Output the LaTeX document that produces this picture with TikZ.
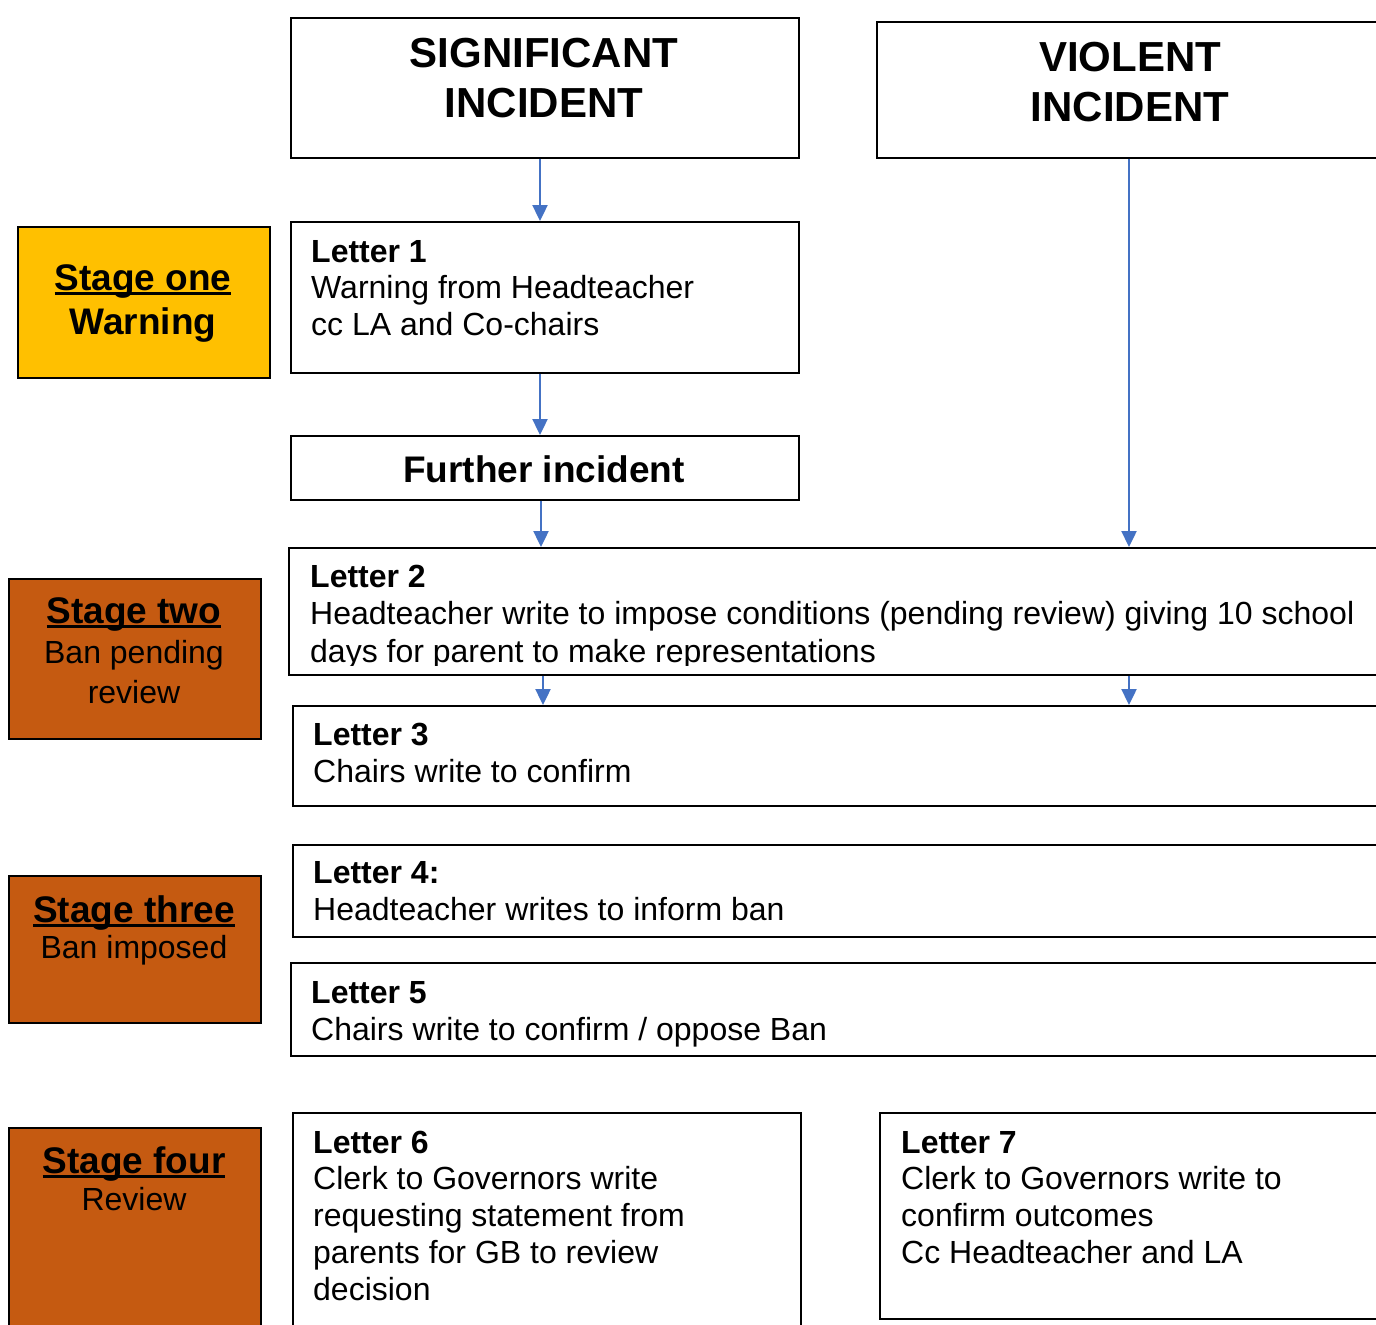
\documentclass[tikz,border=0pt]{standalone}
\usepackage{fontspec}
\setmainfont{Liberation Sans}
\usetikzlibrary{arrows.meta}
\definecolor{stgyel}{HTML}{FFC000}
\definecolor{stgbrn}{HTML}{C55A11}
\definecolor{arrblue}{HTML}{4472C4}
\newsavebox\myulbox
\newcommand\myul[1]{\leavevmode\sbox\myulbox{#1}\rlap{\rule[-5pt]{\wd\myulbox}{3pt}}\usebox\myulbox}
\begin{document}
\begin{tikzpicture}[x=1pt,y=-1pt,
  box/.style={draw=black, line width=1.6pt, inner sep=0pt, anchor=north west, rectangle},
  stagebox/.style={box, line width=1.8pt},
  txt/.style={anchor=base west, inner sep=0pt},
  ctxt/.style={anchor=base, inner sep=0pt},
  arr/.style={draw=arrblue, line width=2.4pt, -{Triangle[width=15pt,length=16pt]}}]
\clip (0,0) rectangle (1376,1325);
\fill[white] (0,0) rectangle (1376,1325);
% boxes
\node[box, minimum width=508pt, minimum height=140pt] (sig) at (290,17) {};
\node[box, minimum width=514pt, minimum height=136pt] (viol) at (876,21) {};
\node[stagebox, fill=stgyel, minimum width=252pt, minimum height=151pt] (s1) at (17,226) {};
\node[box, minimum width=508pt, minimum height=151pt] (l1) at (290,221) {};
\node[box, minimum width=508pt, minimum height=64pt] (fur) at (290,435) {};
\node[box, minimum width=1102pt, minimum height=127pt] (l2) at (288,547) {};
\node[box, minimum width=1098pt, minimum height=100pt] (l3) at (292,705) {};
\node[stagebox, fill=stgbrn, minimum width=252pt, minimum height=160pt] (s2) at (8,578) {};
\node[box, minimum width=1098pt, minimum height=92pt] (l4) at (292,844) {};
\node[box, minimum width=1100pt, minimum height=93pt] (l5) at (290,962) {};
\node[stagebox, fill=stgbrn, minimum width=252pt, minimum height=147pt] (s3) at (8,875) {};
\node[stagebox, fill=stgbrn, minimum width=252pt, minimum height=220pt] (s4) at (8,1127) {};
\node[box, minimum width=508pt, minimum height=230pt] (l6) at (292,1112) {};
\node[box, minimum width=511pt, minimum height=206pt] (l7) at (879,1112) {};
% titles
\node[ctxt] (sigt) at (544,67) {\parbox[t]{500pt}{\centering\fontsize{42}{50}\selectfont\bfseries SIGNIFICANT\\INCIDENT}};
\node[ctxt] (violt) at (1130,71) {\parbox[t]{500pt}{\centering\fontsize{42}{50}\selectfont\bfseries VIOLENT\\INCIDENT}};
\node[ctxt] (furt) at (544,482) {\fontsize{37}{44}\selectfont\bfseries Further incident};
% stage texts
\node[ctxt] (s1t) at (143,290) {\parbox[t]{250pt}{\centering\fontsize{37}{44}\selectfont\bfseries\myul{Stage one}\\Warning}};
\node[ctxt] (s2t) at (134,623) {\parbox[t]{250pt}{\centering\fontsize{37}{40}\selectfont{\bfseries\myul{Stage two}}\\\fontsize{32}{40}\selectfont Ban pending\\review}};
\node[ctxt] (s3t) at (134,922) {\parbox[t]{250pt}{\centering\fontsize{37}{36}\selectfont{\bfseries\myul{Stage three}}\\\fontsize{32}{36}\selectfont Ban imposed}};
\node[ctxt] (s4t) at (134,1173) {\parbox[t]{250pt}{\centering\fontsize{37}{37}\selectfont{\bfseries\myul{Stage four}}\\\fontsize{32}{37}\selectfont Review}};
% letter texts
\node[txt] (l1t) at (311,262) {\parbox[t]{700pt}{\fontsize{32}{36.5}\selectfont\textbf{Letter 1}\\Warning from Headteacher\\cc LA and Co-chairs}};
\begin{scope}
\clip (290,549) rectangle (1376,665);
\node[txt] (l2t) at (310,587) {\parbox[t]{1060pt}{\fontsize{32}{37.5}\selectfont\textbf{Letter 2}\\Headteacher write to impose conditions (pending review) giving 10 school\\days for parent to make representations}};
\end{scope}
\node[txt] (l3t) at (313,745) {\parbox[t]{700pt}{\fontsize{32}{37}\selectfont\textbf{Letter 3}\\Chairs write to confirm}};
\node[txt] (l4t) at (313,883) {\parbox[t]{700pt}{\fontsize{32}{37}\selectfont\textbf{Letter 4:}\\Headteacher writes to inform ban}};
\node[txt] (l5t) at (311,1003) {\parbox[t]{700pt}{\fontsize{32}{37}\selectfont\textbf{Letter 5}\\Chairs write to confirm / oppose Ban}};
\node[txt] (l6t) at (313,1153) {\parbox[t]{480pt}{\fontsize{32}{36.8}\selectfont\textbf{Letter 6}\\Clerk to Governors write\\requesting statement from\\parents for GB to review\\decision}};
\node[txt] (l7t) at (901,1153) {\parbox[t]{480pt}{\fontsize{32}{36.7}\selectfont\textbf{Letter 7}\\Clerk to Governors write to\\confirm outcomes\\Cc Headteacher and LA}};
% arrows
\coordinate (ax1) at (540,0);
\coordinate (ax2) at (541,0);
\coordinate (ax3) at (543,0);
\coordinate (vx) at (1129,0);
\draw[arr] (sig.south -| ax1) -- (l1.north -| ax1);
\draw[arr] (l1.south -| ax1) -- (fur.north -| ax1);
\draw[arr] (fur.south -| ax2) -- (l2.north -| ax2);
\draw[arr] (viol.south -| vx) -- (l2.north -| vx);
\draw[arr] (l2.south -| ax3) -- (l3.north -| ax3);
\draw[arr] (l2.south -| vx) -- (l3.north -| vx);
\end{tikzpicture}
\end{document}
